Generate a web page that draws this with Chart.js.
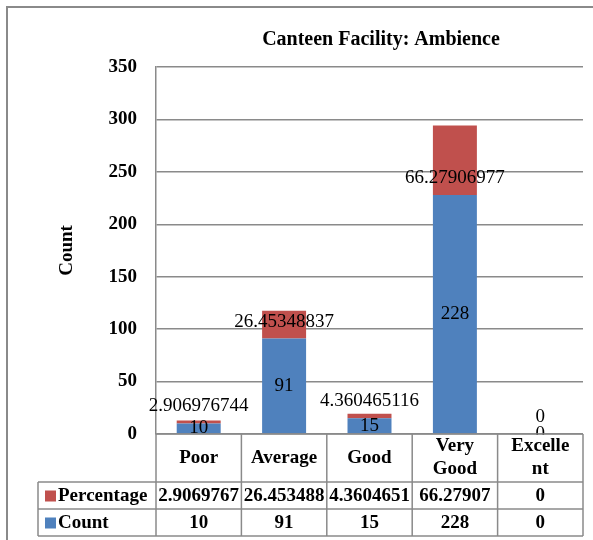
<!DOCTYPE html>
<html>
<head>
<meta charset="utf-8">
<script src="https://cdn.jsdelivr.net/npm/chart.js@4.4.0/dist/chart.umd.min.js"></script>
<style>
  html, body { margin: 0; padding: 0; background: #fff; }
</style>
</head>
<body>
<canvas id="chart" width="593" height="540"></canvas>
<script>
// data
const categories = [['Poor'], ['Average'], ['Good'], ['Very', 'Good'], ['Excelle', 'nt']];
const countValues = [10, 91, 15, 228, 0];
const percentValues = [2.906976744, 26.45348837, 4.360465116, 66.27906977, 0];
const yTicks = [0, 50, 100, 150, 200, 250, 300, 350];

const BLUE = '#4F81BD';
const RED = '#C0504D';
const LINE = '#8a8a8a';
const SERIF = '"Liberation Serif", "DejaVu Serif", serif';

// table text like Excel shows it (8 significant digits)
const fmt = v => String(parseFloat(v.toPrecision(8)));

const extras = {
    id: 'extras',
    beforeDraw(chart) {
        const c = chart.ctx;
        c.save();
        c.fillStyle = '#fff';
        c.fillRect(0, 0, chart.width, chart.height);
        c.restore();
    },
    afterDatasetsDraw(chart) {
        const c = chart.ctx;
        const countMeta = chart.getDatasetMeta(0);
        c.save();
        c.font = '19px ' + SERIF;
        c.fillStyle = '#000';
        c.textAlign = 'center';
        c.textBaseline = 'middle';
        countMeta.data.forEach((bar, i) => {
            c.fillText(String(countValues[i]), bar.x, (bar.y + bar.base) / 2);
            c.fillText(String(percentValues[i]), bar.x, bar.y - 17);
        });
        c.restore();
    },
    afterDraw(chart) {
        const c = chart.ctx;
        const area = chart.chartArea;
        const xs = chart.scales.x;
        const n = categories.length;
        const step = (area.right - area.left) / n;
        const top = area.bottom;
        const r1 = top + 48, r2 = r1 + 27, r3 = r2 + 27;
        const left = 38;

        c.save();
        // cover label parts below the axis
        c.fillStyle = '#fff';
        c.fillRect(area.left, top + 1, area.right - area.left, r3 - top);

        c.strokeStyle = LINE;
        c.lineWidth = 1.5;
        c.beginPath();
        c.moveTo(area.left, top); c.lineTo(area.right, top);
        [r1, r2, r3].forEach(y => { c.moveTo(left, y); c.lineTo(area.right, y); });
        c.moveTo(left, r1); c.lineTo(left, r3);
        for (let i = 0; i <= n; i++) {
            const x = area.left + step * i;
            c.moveTo(x, top); c.lineTo(x, r3);
        }
        c.stroke();

        c.fillStyle = '#000';
        c.font = 'bold 19px ' + SERIF;
        c.textAlign = 'center';
        c.textBaseline = 'middle';
        categories.forEach((lines, i) => {
            const x = xs.getPixelForValue(i);
            const mid = (top + r1) / 2;
            lines.forEach((t, k) => {
                c.fillText(t, x, mid + (k - (lines.length - 1) / 2) * 23);
            });
            c.fillText(fmt(percentValues[i]), x, (r1 + r2) / 2 + 1);
            c.fillText(String(countValues[i]), x, (r2 + r3) / 2 + 1);
        });

        // legend keys in the first column
        c.textAlign = 'left';
        c.fillStyle = RED;
        c.fillRect(45, (r1 + r2) / 2 - 5, 11, 11);
        c.fillStyle = BLUE;
        c.fillRect(45, (r2 + r3) / 2 - 5, 11, 11);
        c.fillStyle = '#000';
        c.fillText('Percentage', 58, (r1 + r2) / 2 + 1);
        c.fillText('Count', 58, (r2 + r3) / 2 + 1);

        // title
        c.textAlign = 'center';
        c.font = 'bold 20px ' + SERIF;
        c.fillText('Canteen Facility: Ambience', 381, 40);

        // outer frame
        c.strokeStyle = LINE;
        c.lineWidth = 2;
        c.beginPath();
        c.moveTo(7, chart.height); c.lineTo(7, 7); c.lineTo(chart.width, 7);
        c.stroke();
        c.restore();
    }
};

const ctx = document.getElementById('chart').getContext('2d');
const chart = new Chart(ctx, {
    type: 'bar',
    data: {
        labels: categories,
        datasets: [{
            label: 'Count',
            data: countValues,
            backgroundColor: BLUE
        }, {
            label: 'Percentage',
            data: percentValues,
            backgroundColor: RED
        }]
    },
    options: {
        responsive: false,
        animation: false,
        devicePixelRatio: 1,
        layout: { padding: { top: 67, right: 10, left: 0, bottom: 0 } },
        datasets: {
            bar: { categoryPercentage: 1, barPercentage: 0.515 }
        },
        plugins: {
            legend: { display: false },
            title: { display: false },
            tooltip: { enabled: false }
        },
        scales: {
            x: {
                stacked: true,
                afterFit(s) { s.height = 106; },
                ticks: { display: false },
                grid: { display: false },
                border: { display: false }
            },
            y: {
                stacked: true,
                min: 0,
                max: 350,
                afterFit(s) { s.width = 156; },
                afterBuildTicks(s) { s.ticks = yTicks.map(v => ({ value: v })); },
                ticks: {
                    padding: 19,
                    color: '#000',
                    font: { family: SERIF, size: 19, weight: 'bold' }
                },
                grid: { color: LINE, lineWidth: 1.5, drawTicks: false },
                border: { color: LINE, width: 1.5 },
                title: {
                    display: true,
                    text: 'Count',
                    color: '#000',
                    font: { family: SERIF, size: 19, weight: 'bold' },
                    padding: { top: 56, bottom: 0 }
                }
            }
        }
    },
    plugins: [extras]
});
</script>
</body>
</html>
